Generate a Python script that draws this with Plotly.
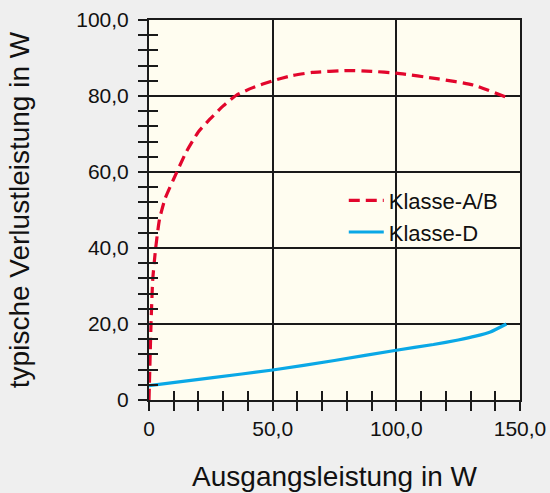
import plotly.graph_objects as go

# Data
ab_x = [0, 0.4, 0.8, 1.5, 2.7, 4.2, 6.5, 9.8, 15, 20, 24.6, 30, 35.3, 42, 50, 58, 66, 80, 90, 100, 117, 131, 144]
ab_y = [0, 10, 19.7, 31.6, 40, 47.4, 53, 57.9, 65.2, 70.6, 73.9, 77.4, 80.2, 82.2, 84, 85.4, 86.2, 86.7, 86.5, 86.0, 84.5, 82.9, 79.8]

d_x = [0, 25, 50, 75, 100, 115, 125, 132, 138, 144.5]
d_y = [3.8, 5.8, 7.9, 10.4, 13.1, 14.6, 15.8, 16.8, 17.9, 20.0]

x_tickvals = [0, 50, 100, 150]
x_ticktext = ["0", "50,0", "100,0", "150,0"]
y_tickvals = [0, 20, 40, 60, 80, 100]
y_ticktext = ["0", "20,0", "40,0", "60,0", "80,0", "100,0"]

series_names = ["Klasse-A/B", "Klasse-D"]

RED = "#e2062c"
BLUE = "#0aa8e6"
FONT = "Liberation Sans, Arial, sans-serif"
INK = "#1a1a1a"

fig = go.Figure()
fig.add_trace(go.Scatter(x=ab_x, y=ab_y, mode="lines", name=series_names[0],
                         line=dict(color=RED, width=3.2, dash="11px,6px", shape="spline", smoothing=0.5)))
fig.add_trace(go.Scatter(x=d_x, y=d_y, mode="lines", name=series_names[1],
                         line=dict(color=BLUE, width=3.2, shape="spline", smoothing=0.5)))
# helper trace for inner-tick overlay axes
fig.add_trace(go.Scatter(x=[None], y=[None], xaxis="x2", yaxis="y2", showlegend=False, hoverinfo="skip"))

axis_common = dict(showline=True, linecolor=INK, linewidth=2, mirror=True,
                   showgrid=True, gridcolor=INK, gridwidth=1.5, zeroline=False,
                   tickcolor=INK, tickwidth=1.5, ticklen=9, automargin=False,
                   tickfont=dict(family=FONT, size=21, color="#111"))

fig.update_layout(
    width=550, height=493,
    margin=dict(l=149, r=30, t=20, b=93),
    paper_bgcolor="#efefef", plot_bgcolor="#fffdf0",
    font=dict(family=FONT, color="#111"),
    showlegend=True,
    legend=dict(x=0.525, y=0.58, xanchor="left", yanchor="top", bgcolor="rgba(0,0,0,0)",
                itemwidth=35,
                font=dict(family=FONT, size=22, color="#111")),
    xaxis=dict(range=[0, 150], tickvals=x_tickvals, ticktext=x_ticktext, ticks="outside",
               minor=dict(dtick=10, tick0=0, ticks="outside", ticklen=9, tickwidth=1.5, tickcolor=INK, showgrid=False),
               title=dict(text="Ausgangsleistung in W", font=dict(family=FONT, size=28, color="#111"), standoff=27),
               **axis_common),
    yaxis=dict(range=[0, 100], tickvals=y_tickvals, ticktext=y_ticktext, ticks="outside",
               minor=dict(dtick=4, tick0=0, ticks="outside", ticklen=9, tickwidth=1.5, tickcolor=INK, showgrid=False),
               ticklabelstandoff=5,
               title=dict(text="typische Verlustleistung in W", font=dict(family=FONT, size=28, color="#111"), standoff=38),
               **axis_common),
    xaxis2=dict(range=[0, 150], overlaying="x", anchor="y2", side="bottom", showgrid=False, zeroline=False,
                automargin=False,
                showticklabels=False, tickvals=x_tickvals, ticks="inside", ticklen=9, tickwidth=1.5, tickcolor=INK,
                minor=dict(dtick=10, tick0=0, ticks="inside", ticklen=9, tickwidth=1.5, tickcolor=INK, showgrid=False)),
    yaxis2=dict(range=[0, 100], overlaying="y", anchor="x2", side="left", showgrid=False, zeroline=False,
                automargin=False,
                showticklabels=False, tickvals=y_tickvals, ticks="inside", ticklen=9, tickwidth=1.5, tickcolor=INK,
                minor=dict(dtick=4, tick0=0, ticks="inside", ticklen=9, tickwidth=1.5, tickcolor=INK, showgrid=False)),
)

fig.write_html("out.html", config={"displayModeBar": False},
               post_script="document.body.style.margin='0';document.body.style.background='#efefef';")
